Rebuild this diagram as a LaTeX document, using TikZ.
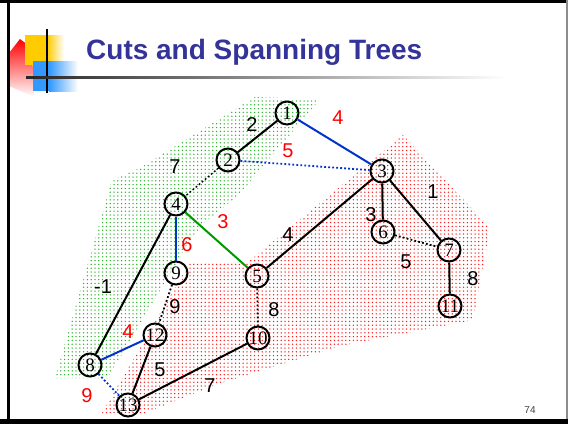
\documentclass[tikz,border=0pt]{standalone}
\usepackage{fontspec}
\setmainfont{Liberation Serif}
\setsansfont{Liberation Sans}
\usetikzlibrary{patterns.meta}
\definecolor{titleblue}{RGB}{51,51,153}
\definecolor{edgeblue}{RGB}{0,51,204}
\definecolor{edgegreen}{RGB}{0,153,0}
\definecolor{logoyellow}{RGB}{255,204,0}
\definecolor{logoblue}{RGB}{51,153,255}
\definecolor{sidegreen}{RGB}{40,180,40}
\tikzset{
    slide/.style={
        x=1pt, y=-1pt,
        vertex/.style={draw, circle, line width=2pt, minimum size=23pt, inner sep=0pt, font=\fontsize{19}{19}\selectfont},
        wt/.style={inner sep=0pt, font=\fontsize{20}{20}\selectfont\sffamily},
        cutwt/.style={wt, red},
        tree/.style={line width=2pt},
        nontree/.style={line width=1.8pt, dash pattern=on 1.8pt off 2.2pt},
        side_s/.style={pattern={Dots[radius=0.75pt, distance=3.8pt]}, pattern color=sidegreen},
        side_t/.style={pattern={Dots[radius=0.75pt, distance=3.8pt]}, pattern color=red!90},
        headline/.style={font=\fontsize{28}{30}\selectfont\sffamily\bfseries, text=titleblue, inner sep=0pt}
    }
}

\begin{document}
\begin{tikzpicture}[slide]
        \useasboundingbox (0,0) rectangle (568,424);

        % Logo and title
        \shade[top color=red, middle color=black!35, bottom color=white] (9,53) -- (20,39) -- (32,48) -- (34,97) -- (9,86) -- cycle;
        \fill[logoyellow] (25,35) rectangle (47,65);
        \shade[left color=logoyellow, right color=white] (47,35) rectangle (64,65);
        \fill[logoblue] (33,61) rectangle (49,91);
        \shade[left color=logoblue, right color=white] (49,61) rectangle (78,91);
        \draw[line width=2pt] (47,29) -- (47,93);
        \shade[left color=black!85, right color=white] (26,76.8) rectangle (507,78.8);
        \node[headline, anchor=base west] (title) at (86,59) {Cuts and Spanning Trees};

        % The two sides of the cut
        \fill[side_s] (255,97) -- (320,99) -- (237,197) -- (205,222) -- (190,240) -- (108,378) -- (55,378) -- (112,180) -- (140,168) -- cycle;
        \fill[side_t] (403,135) -- (490,228) -- (473,320) -- (340,346) -- (215,385) -- (145,413) -- (102,413) -- (190,262) -- (247,263) -- cycle;

        % Vertices
        \node[vertex] (n1) at (287,113) {\makebox[0pt]{1}};
        \node[vertex] (n2) at (228,160) {\makebox[0pt]{2}};
        \node[vertex] (n3) at (382,171) {\makebox[0pt]{3}};
        \node[vertex] (n4) at (176,204) {\makebox[0pt]{4}};
        \node[vertex] (n5) at (257,276) {\makebox[0pt]{5}};
        \node[vertex] (n6) at (383,232) {\makebox[0pt]{6}};
        \node[vertex] (n7) at (449,250) {\makebox[0pt]{7}};
        \node[vertex] (n8) at (90,365) {\makebox[0pt]{8}};
        \node[vertex] (n9) at (176,273) {\makebox[0pt]{9}};
        \node[vertex] (n10) at (258,338) {\makebox[0pt]{10}};
        \node[vertex] (n11) at (450,306) {\makebox[0pt]{11}};
        \node[vertex] (n12) at (155,335) {\makebox[0pt]{12}};
        \node[vertex] (n13) at (128,405) {\makebox[0pt]{13}};

        % Edges
        \draw[tree] (n1) -- (n2);
        \draw[tree, edgeblue] (n1) -- (n3);
        \draw[nontree, edgeblue] (n2) -- (n3);
        \draw[nontree, line width=1.4pt] (n2) -- (n4);
        \draw[tree, edgegreen] (n4) -- (n5);
        \draw[tree, edgeblue] (n4) -- (n9);
        \draw[tree] (n4) -- (n8);
        \draw[tree] (n3) -- (n5);
        \draw[tree] (n3) -- (n6);
        \draw[tree] (n3) -- (n7);
        \draw[nontree] (n6) -- (n7);
        \draw[tree] (n7) -- (n11);
        \draw[nontree] (n5) -- (n10);
        \draw[nontree] (n9) -- (n12);
        \draw[tree, edgeblue] (n8) -- (n12);
        \draw[nontree, edgeblue] (n8) -- (n13);
        \draw[tree] (n12) -- (n13);
        \draw[tree] (n10) -- (n13);

        % Weights
        \node[wt] (w1-2) at (252,125) {2};
        \node[cutwt] (w1-3) at (338,118) {4};
        \node[cutwt] (w2-3) at (288,151) {5};
        \node[wt] (w2-4) at (175,167) {7};
        \node[cutwt] (w4-5) at (223,222) {3};
        \node[cutwt] (w4-9) at (187,245) {6};
        \node[wt] (w4-8) at (103,287) {-1};
        \node[wt] (w3-5) at (288,235) {4};
        \node[wt] (w3-6) at (371,215) {3};
        \node[wt] (w3-7) at (433,192) {1};
        \node[wt] (w6-7) at (406,262) {5};
        \node[wt] (w7-11) at (473,279) {8};
        \node[wt] (w5-10) at (274,310) {8};
        \node[wt] (w9-12) at (175,307) {9};
        \node[cutwt] (w8-12) at (128,332) {4};
        \node[cutwt] (w8-13) at (87,396) {9};
        \node[wt] (w12-13) at (160,370) {5};
        \node[wt] (w10-13) at (210,386) {7};

        % Slide frame
        \node[font=\fontsize{10}{12}\selectfont\sffamily, text=black!75] (page) at (530,410) {74};
        \draw[line width=3pt] (0,1.5) -- (568,1.5);
        \draw[line width=2.6pt] (8.7,0) -- (8.7,424);
        \draw[black!45, line width=1.2pt] (567,0) -- (567,424);
        \fill (0,419) rectangle (568,424);

    \end{tikzpicture}
\end{document}
